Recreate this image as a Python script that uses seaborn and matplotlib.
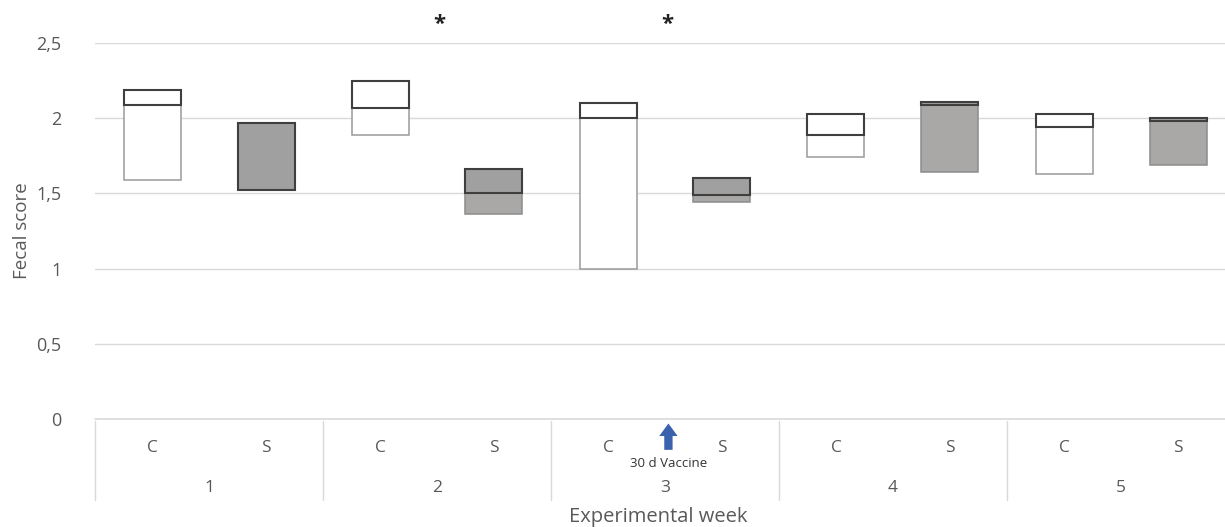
import matplotlib
matplotlib.use("Agg")
import matplotlib.pyplot as plt
import matplotlib.transforms as mtransforms
import numpy as np
import pandas as pd
import seaborn as sns

# Experimental weeks and treatment groups
weeks = ["1", "2", "3", "4", "5"]
groups = ["C", "S"]

# Fecal score quartiles per week (Q1, median, Q3)
q1_c = [1.59, 1.89, 1.00, 1.74, 1.63]
med_c = [2.09, 2.07, 2.00, 1.89, 1.94]
q3_c = [2.19, 2.25, 2.10, 2.03, 2.03]

q1_s = [1.52, 1.36, 1.44, 1.64, 1.69]
med_s = [1.52, 1.50, 1.49, 2.09, 1.98]
q3_s = [1.97, 1.66, 1.60, 2.11, 2.00]

# Weeks with a significant difference between groups
signif_weeks = ["2", "3"]
vaccine_week = "3"
vaccine_label = "30 d Vaccine"

y_ticks = [0, 0.5, 1, 1.5, 2, 2.5]
y_tick_labels = ["0", "0,5", "1", "1,5", "2", "2,5"]

sns.set_theme(style="white")
plt.rcParams["font.family"] = ["Open Sans", "DejaVu Sans"]

order = [f"{w}{g}" for w in weeks for g in groups]

fig = plt.figure(figsize=(12.25, 5.27), dpi=100)
ax = fig.add_axes([95 / 1225, 108 / 527, 1140 / 1225, 376 / 527])

gray_txt = "#595959"
grid_col = "#d9d9d9"

def segment(group, lower, upper, face, edge, lw):
    df = pd.DataFrame({
        "cat": [f"{w}{group}" for w in weeks],
        "height": np.array(upper) - np.array(lower),
    })
    sns.barplot(data=df, x="cat", y="height", order=order, ax=ax,
                width=0.5, errorbar=None, color=face, edgecolor=edge,
                linewidth=lw, bottom=np.array(lower), zorder=3)

# Control: white boxes; lower half lightly outlined, upper half darker
segment("C", q1_c, med_c, "white", "#9a9a9a", 1.1)
segment("C", med_c, q3_c, "white", "#3f3f3f", 1.5)
# Supplemented: grey boxes
segment("S", q1_s, med_s, "#aaa7a7", "#8c8c8c", 1.1)
segment("S", med_s, q3_s, "#a0a0a0", "#3f3f3f", 1.5)

ax.set_xlim(-0.5, 9.5)
ax.set_ylim(0, 2.5)
ax.set_yticks(y_ticks)
ax.set_yticklabels(y_tick_labels, fontsize=13, color=gray_txt)
ax.tick_params(axis="y", length=0, pad=24)
ax.set_xticks([])
ax.set_xlabel("")
ax.set_ylabel("")
for s in ax.spines.values():
    s.set_visible(False)
for yv in y_ticks[1:]:
    ax.axhline(yv, color=grid_col, lw=1.0, zorder=0)
ax.axhline(0, color=grid_col, lw=1.2, zorder=1, clip_on=False)

# Two-level category axis
trans = mtransforms.blended_transform_factory(ax.transData, ax.transAxes)
for i, cat in enumerate(order):
    ax.text(i, -0.077, cat[-1], transform=trans, ha="center", va="center",
            fontsize=12.5, color=gray_txt)
for k, w in enumerate(weeks):
    ax.text(2 * k + 0.5, -0.183, w, transform=trans, ha="center",
            va="center", fontsize=12.5, color=gray_txt)
for k in range(len(weeks) + 1):
    ax.plot([2 * k - 0.5, 2 * k - 0.5], [-0.005, -0.215], transform=trans,
            color=grid_col, lw=1.0, clip_on=False)

# Significance markers
for w in signif_weeks:
    k = weeks.index(w)
    ax.text(2 * k + 0.52, 2.62, "*", ha="center", va="center",
            fontsize=16, fontweight="bold", color="#222222", clip_on=False)

# Vaccination marker
kv = weeks.index(vaccine_week)
ax.annotate("", xy=(2 * kv + 0.53, -0.012), xycoords=trans,
            xytext=(2 * kv + 0.53, -0.082), textcoords=trans,
            arrowprops=dict(arrowstyle="simple,head_width=1.1,head_length=0.75,tail_width=0.5",
                            color="#3a62ad", lw=0, shrinkA=0, shrinkB=0))
ax.text(2 * kv + 0.53, -0.118, vaccine_label, transform=trans, ha="center",
        va="center", fontsize=9.5, color="#333333")

fig.text(658 / 1225, 1 - 517 / 527, "Experimental week", ha="center",
         va="center", fontsize=14.5, color=gray_txt)
fig.text(22 / 1225, 1 - 231 / 527, "Fecal score", ha="center",
         va="center", rotation=90, fontsize=13.5, color=gray_txt)

fig.savefig("out.png", dpi=100)
